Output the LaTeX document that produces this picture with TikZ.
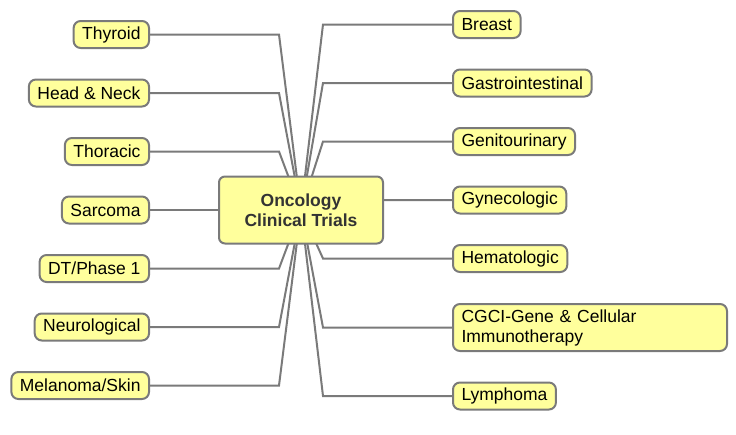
\documentclass[tikz,border=0pt]{standalone}
\usepackage{fontspec}
\setmainfont{Liberation Sans}
\usepackage{tikz}
\usetikzlibrary{backgrounds}
\definecolor{leafyellow}{HTML}{FFFF9C}
\definecolor{edgegray}{HTML}{7A7A7A}

\begin{document}
\begin{tikzpicture}[x=1pt,y=-1pt,
  leaf/.style={draw=edgegray,line width=2pt,fill=leafyellow,rounded corners=7pt,font=\fontsize{17.5}{20}\selectfont,inner xsep=8.5pt,inner ysep=5pt,minimum height=27pt,align=left},
  hub/.style={leaf,rounded corners=6pt,minimum width=164pt,minimum height=67pt,align=center,font=\fontsize{17.5}{20}\selectfont\bfseries,text=black!80},
  link/.style={draw=edgegray,line width=2pt}]
\useasboundingbox (0,0) rectangle (736,434);
\node[hub] (hub) at (301,210) {Oncology\\Clinical Trials};
\coordinate (elbowL) at (279,0); \coordinate (elbowR) at (323,0);
% left side
\node[leaf,anchor=east] (thyroid) at (150,34.5) {Thyroid};
\node[leaf,anchor=east] (headneck) at (150,93) {Head \& Neck};
\node[leaf,anchor=east] (thoracic) at (150,151.5) {Thoracic};
\node[leaf,anchor=east] (sarcoma) at (150,210) {Sarcoma};
\node[leaf,anchor=east] (phase) at (150,268.5) {DT/Phase 1};
\node[leaf,anchor=east] (neuro) at (150,327) {Neurological};
\node[leaf,anchor=east] (melanoma) at (150,385.5) {Melanoma/Skin};
% right side
\node[leaf,anchor=west] (breast) at (452,24.5) {Breast};
\node[leaf,anchor=west] (gastro) at (452,83) {Gastrointestinal};
\node[leaf,anchor=west] (genito) at (452,141.5) {Genitourinary};
\node[leaf,anchor=west] (gyneco) at (452,200) {Gynecologic};
\node[leaf,anchor=west] (hemato) at (452,258.5) {Hematologic};
\node[leaf,anchor=west,minimum height=47pt,text width=257pt] (cgci) at (452,327.5) {CGCI-Gene \& Cellular\\Immunotherapy};
\node[leaf,anchor=west] (lymphoma) at (452,396) {Lymphoma};
\begin{scope}[on background layer]
\foreach \n in {thyroid,headneck,thoracic,sarcoma,phase,neuro,melanoma}
  \draw[link] (\n.east) -- (\n.east -| elbowL) -- (hub.center);
\foreach \n in {breast,gastro,genito,gyneco,hemato,cgci,lymphoma}
  \draw[link] (\n.west) -- (\n.west -| elbowR) -- (hub.center);
\end{scope}
\end{tikzpicture}
\end{document}
